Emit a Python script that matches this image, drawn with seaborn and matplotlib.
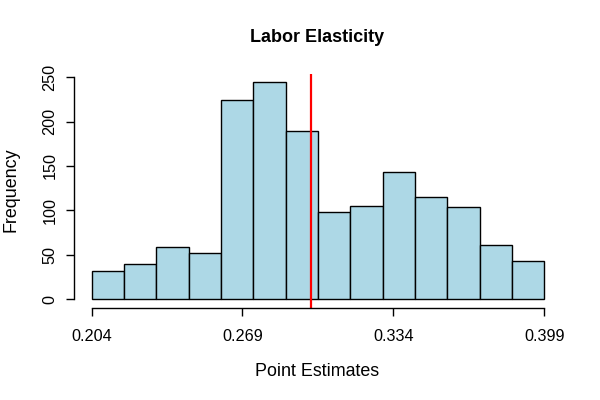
import numpy as np
import pandas as pd
import matplotlib
matplotlib.use('Agg')
import matplotlib.pyplot as plt
import seaborn as sns

sns.set_style('white')
plt.rcParams['font.family'] = ['Liberation Sans', 'DejaVu Sans']
plt.rcParams['text.color'] = 'black'

# histogram counts (14 equal bins)
counts = [32, 39, 59, 52, 224, 244, 189, 98, 105, 143, 115, 104, 61, 43]
x_min, x_max = 0.204, 0.399
point_estimate = 0.2984
xtick_vals = [0.204, 0.269, 0.334, 0.399]
ytick_vals = [0, 50, 100, 150, 200, 250]

edges = np.linspace(x_min, x_max, len(counts) + 1)
df = pd.DataFrame({'est': (edges[:-1] + edges[1:]) / 2, 'n': counts})

fig = plt.figure(figsize=(6, 4), dpi=100)
ax = fig.add_axes([73.5 / 600, 1 - 307.7 / 400, 488.8 / 600, 233.9 / 400])

sns.histplot(data=df, x='est', weights='n', bins=list(edges), color='#ADD8E6',
             edgecolor='black', linewidth=1, alpha=1, ax=ax)
ax.axvline(point_estimate, color='red', linewidth=1.6)

# R-style extended limits (4%)
xr = x_max - x_min
ax.set_xlim(x_min - 0.04 * xr, x_max + 0.04 * xr)
ymax = max(counts)
ax.set_ylim(-0.04 * ymax, ymax * 1.04)

for s in ['top', 'right']:
    ax.spines[s].set_visible(False)
ax.spines['left'].set_bounds(0, 250)
ax.spines['bottom'].set_bounds(x_min, x_max)
for s in ['left', 'bottom']:
    ax.spines[s].set_linewidth(1)
    ax.spines[s].set_color('black')

ax.set_xticks(xtick_vals)
ax.set_xticklabels([f'{v:.3f}' for v in xtick_vals])
ax.set_yticks(ytick_vals)
ax.set_yticklabels([str(v) for v in ytick_vals], rotation=90, va='center')
ax.tick_params(axis='both', direction='out', length=5.5, width=1,
               color='black', labelsize=11.7, labelcolor='black',
               bottom=True, left=True)
ax.tick_params(axis='x', pad=9.5)
ax.tick_params(axis='y', pad=6)
ax.grid(False)

ax.set_xlabel('')
ax.set_ylabel('')
fig.text(317 / 600, 1 - 38 / 400, 'Labor Elasticity', ha='center', va='center',
         fontsize=13, fontweight='bold', color='black')
fig.text(317 / 600, 1 - 371 / 400, 'Point Estimates', ha='center', va='center',
         fontsize=12.9, color='black')
fig.text(11 / 600, 1 - 190 / 400, 'Frequency', ha='center', va='center',
         rotation=90, fontsize=12.9, color='black')

plt.savefig('out.png', dpi=100)
